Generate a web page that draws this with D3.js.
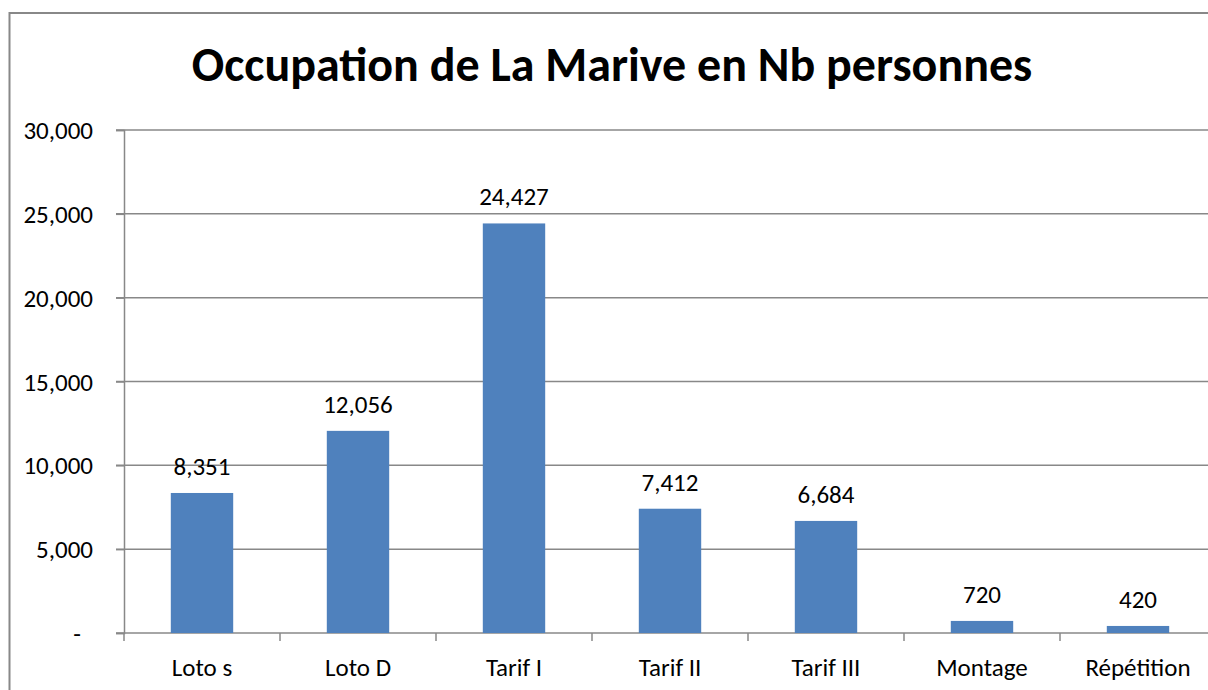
<!DOCTYPE html>
<html>
<head>
<meta charset="utf-8">
<script src="https://cdn.jsdelivr.net/npm/d3@7"></script>
<style>
  body { margin: 0; background: #fff; }
  svg text { font-family: Carlito, Calibri, Lato, sans-serif; fill: #000; }
</style>
</head>
<body>
<div id="chart"></div>
<script>
var categories = ['Loto s', 'Loto D', 'Tarif I', 'Tarif II', 'Tarif III', 'Montage', 'Répétition'];
var values = [8351, 12056, 24427, 7412, 6684, 720, 420];
var yTicks = [0, 5000, 10000, 15000, 20000, 25000, 30000];

var svg = d3.select('#chart').append('svg')
  .attr('width', 1208)
  .attr('height', 690);

// chart frame (runs past the right / bottom edge)
svg.append('rect')
  .attr('x', 9.5)
  .attr('y', 13)
  .attr('width', 1230)
  .attr('height', 720)
  .attr('fill', 'none')
  .attr('stroke', '#888')
  .attr('stroke-width', 2);

svg.append('text')
  .attr('x', 612)
  .attr('y', 81)
  .attr('text-anchor', 'middle')
  .attr('font-size', 48)
  .attr('font-weight', 'bold')
  .text('Occupation de La Marive en Nb personnes');

var plotLeft = 124, plotRight = 1216, plotTop = 130, plotBottom = 633;

var x = d3.scaleBand().domain(categories).range([plotLeft, plotRight]).padding(0);
var y = d3.scaleLinear().domain([0, 30000]).range([plotBottom, plotTop]);

// gridlines
svg.append('g').selectAll('line')
  .data(yTicks.filter(function(d) { return d > 0; }))
  .enter().append('line')
    .attr('x1', plotLeft - 8)
    .attr('x2', plotRight)
    .attr('y1', function(d) { return y(d); })
    .attr('y2', function(d) { return y(d); })
    .attr('stroke', '#888')
    .attr('stroke-width', 1.5);

// y axis
var yAxis = svg.append('g')
  .attr('transform', 'translate(' + plotLeft + ',0)')
  .call(d3.axisLeft(y).tickValues(yTicks).tickSize(8).tickPadding(23)
    .tickFormat(function(d) { return d === 0 ? '-' : d3.format(',')(d); }));
yAxis.select('.domain').attr('stroke', '#888').attr('stroke-width', 1.5);
yAxis.selectAll('.tick line').attr('stroke', '#888').attr('stroke-width', 1.5);
yAxis.selectAll('.tick text')
  .attr('font-size', 25)
  .attr('dy', '0.34em')
  .attr('dx', function(d) { return d === 0 ? -12 : 0; });

// x axis
var xAxis = svg.append('g')
  .attr('transform', 'translate(0,' + plotBottom + ')');
xAxis.append('line')
  .attr('x1', plotLeft - 8)
  .attr('x2', plotRight)
  .attr('stroke', '#888')
  .attr('stroke-width', 1.5);
xAxis.selectAll('.xtick')
  .data(categories)
  .enter().append('line')
    .attr('class', 'xtick')
    .attr('x1', function(d) { return x(d); })
    .attr('x2', function(d) { return x(d); })
    .attr('y1', 0)
    .attr('y2', 8)
    .attr('stroke', '#888')
    .attr('stroke-width', 1.5);
xAxis.selectAll('.xlabel')
  .data(categories)
  .enter().append('text')
    .attr('class', 'xlabel')
    .attr('x', function(d) { return x(d) + x.bandwidth() / 2; })
    .attr('y', 43)
    .attr('text-anchor', 'middle')
    .attr('font-size', 25)
    .text(function(d) { return d; });

// bars
var barW = x.bandwidth() / 2.5;
var data = categories.map(function(c, i) { return { name: c, value: values[i] }; });

svg.selectAll('.bar')
  .data(data)
  .enter().append('rect')
    .attr('class', 'bar')
    .attr('x', function(d) { return x(d.name) + (x.bandwidth() - barW) / 2; })
    .attr('y', function(d) { return y(d.value); })
    .attr('width', barW)
    .attr('height', function(d) { return plotBottom - y(d.value); })
    .attr('fill', '#4F81BD');

svg.selectAll('.label')
  .data(data)
  .enter().append('text')
    .attr('class', 'label')
    .attr('x', function(d) { return x(d.name) + x.bandwidth() / 2; })
    .attr('y', function(d) { return y(d.value) - 18; })
    .attr('text-anchor', 'middle')
    .attr('font-size', 25)
    .text(function(d) { return d3.format(',')(d.value); });
</script>
</body>
</html>
